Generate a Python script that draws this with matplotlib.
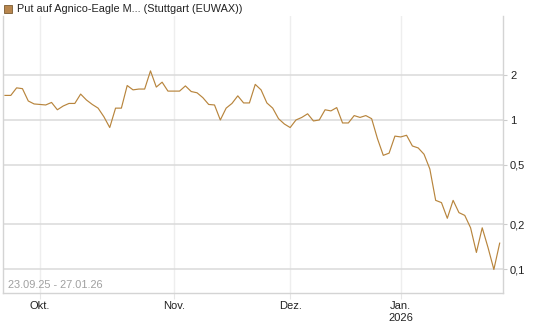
import matplotlib.pyplot as plt
import matplotlib.ticker as mticker
from matplotlib.patches import Rectangle
import pandas as pd

plt.rcParams['font.family'] = ['Liberation Sans', 'DejaVu Sans']

# Handelstage Boerse Stuttgart, 23.09.25 - 27.01.26
feiertage = ['2025-12-24', '2025-12-25', '2025-12-26', '2025-12-31', '2026-01-01']
tage = pd.bdate_range('2025-09-23', '2026-01-27')
tage = tage[~tage.isin(pd.to_datetime(feiertage))]

# Kurse (EUR)
kurs = [1.46, 1.46, 1.64, 1.62, 1.34, 1.28, 1.27, 1.26, 1.31, 1.17,
        1.24, 1.29, 1.29, 1.49, 1.36, 1.27, 1.20, 1.05, 0.89, 1.20,
        1.20, 1.70, 1.59, 1.61, 1.61, 2.13, 1.66, 1.79, 1.56, 1.56,
        1.56, 1.69, 1.55, 1.52, 1.41, 1.27, 1.26, 1.00, 1.20, 1.29,
        1.45, 1.30, 1.30, 1.73, 1.59, 1.30, 1.20, 1.02, 0.94, 0.89,
        1.00, 1.04, 1.10, 0.985, 1.00, 1.17, 1.15, 1.21, 0.955, 0.955,
        1.07, 1.04, 1.07, 1.02, 0.75, 0.58, 0.60, 0.78, 0.77, 0.79,
        0.67, 0.65, 0.59, 0.47, 0.29, 0.28, 0.22, 0.29, 0.24, 0.23,
        0.19, 0.13, 0.19, 0.14, 0.10, 0.15]

y_ticks = [2, 1, 0.5, 0.2, 0.1]
y_labels = ['2', '1', '0,5', '0,2', '0,1']
monate = {10: 'Okt.', 11: 'Nov.', 12: 'Dez.', 1: 'Jan.\n2026'}

farbe = '#b8853d'
x = list(range(len(tage)))

# Monatsanfaenge suchen
pos_monat = []
lab_monat = []
for i in range(1, len(tage)):
    if tage[i].month != tage[i - 1].month:
        pos_monat.append(i)
        lab_monat.append(monate[tage[i].month])

fig = plt.figure(figsize=(5.45, 3.27), dpi=100)
ax = fig.add_axes([3 / 545, 34 / 327, 500 / 545, 277 / 327])

ax.plot(x, kurs, color=farbe, linewidth=0.85, zorder=3)

ax.set_yscale('log')
ax.set_ylim(0.0696, 4.96)
ax.set_xlim(-0.34, 85.57)

ax.yaxis.tick_right()
ax.yaxis.set_major_locator(mticker.FixedLocator(y_ticks))
ax.yaxis.set_major_formatter(mticker.FixedFormatter(y_labels))
ax.yaxis.set_minor_locator(mticker.NullLocator())
ax.tick_params(axis='y', length=3, width=0.8, color='#cccccc',
               labelsize=8, pad=2, labelcolor='#222222')

ax.set_xticks(pos_monat)
ax.set_xticklabels(lab_monat, linespacing=1.25)
ax.tick_params(axis='x', length=4, width=0.8, color='#e6e6e6',
               labelsize=8, pad=1.5, labelcolor='#222222')

ax.grid(axis='y', color='#dadada', linewidth=1.1)
ax.grid(axis='x', color='#eeeeee', linewidth=1.0)
ax.set_axisbelow(True)

for s in ['left', 'right', 'bottom']:
    ax.spines[s].set_color('#d4d4d4')
    ax.spines[s].set_linewidth(1.0)
ax.spines['top'].set_visible(False)

ax.text(0.01, 0.012, '23.09.25 - 27.01.26', transform=ax.transAxes,
        fontsize=7.9, color='#a0a0a0', ha='left', va='bottom')

# Titel mit Farbkaestchen
fig.patches.append(Rectangle((4 / 545, 1 - 13 / 327), 8 / 545, 8 / 327,
                             transform=fig.transFigure, facecolor='#b8864e',
                             edgecolor='#7a5a30', linewidth=0.6))
fig.text(17 / 545, 1 - 9 / 327, 'Put auf Agnico-Eagle M... (Stuttgart (EUWAX))',
         fontsize=7.8, color='#222222', ha='left', va='center')

fig.savefig('out.png', dpi=100)
